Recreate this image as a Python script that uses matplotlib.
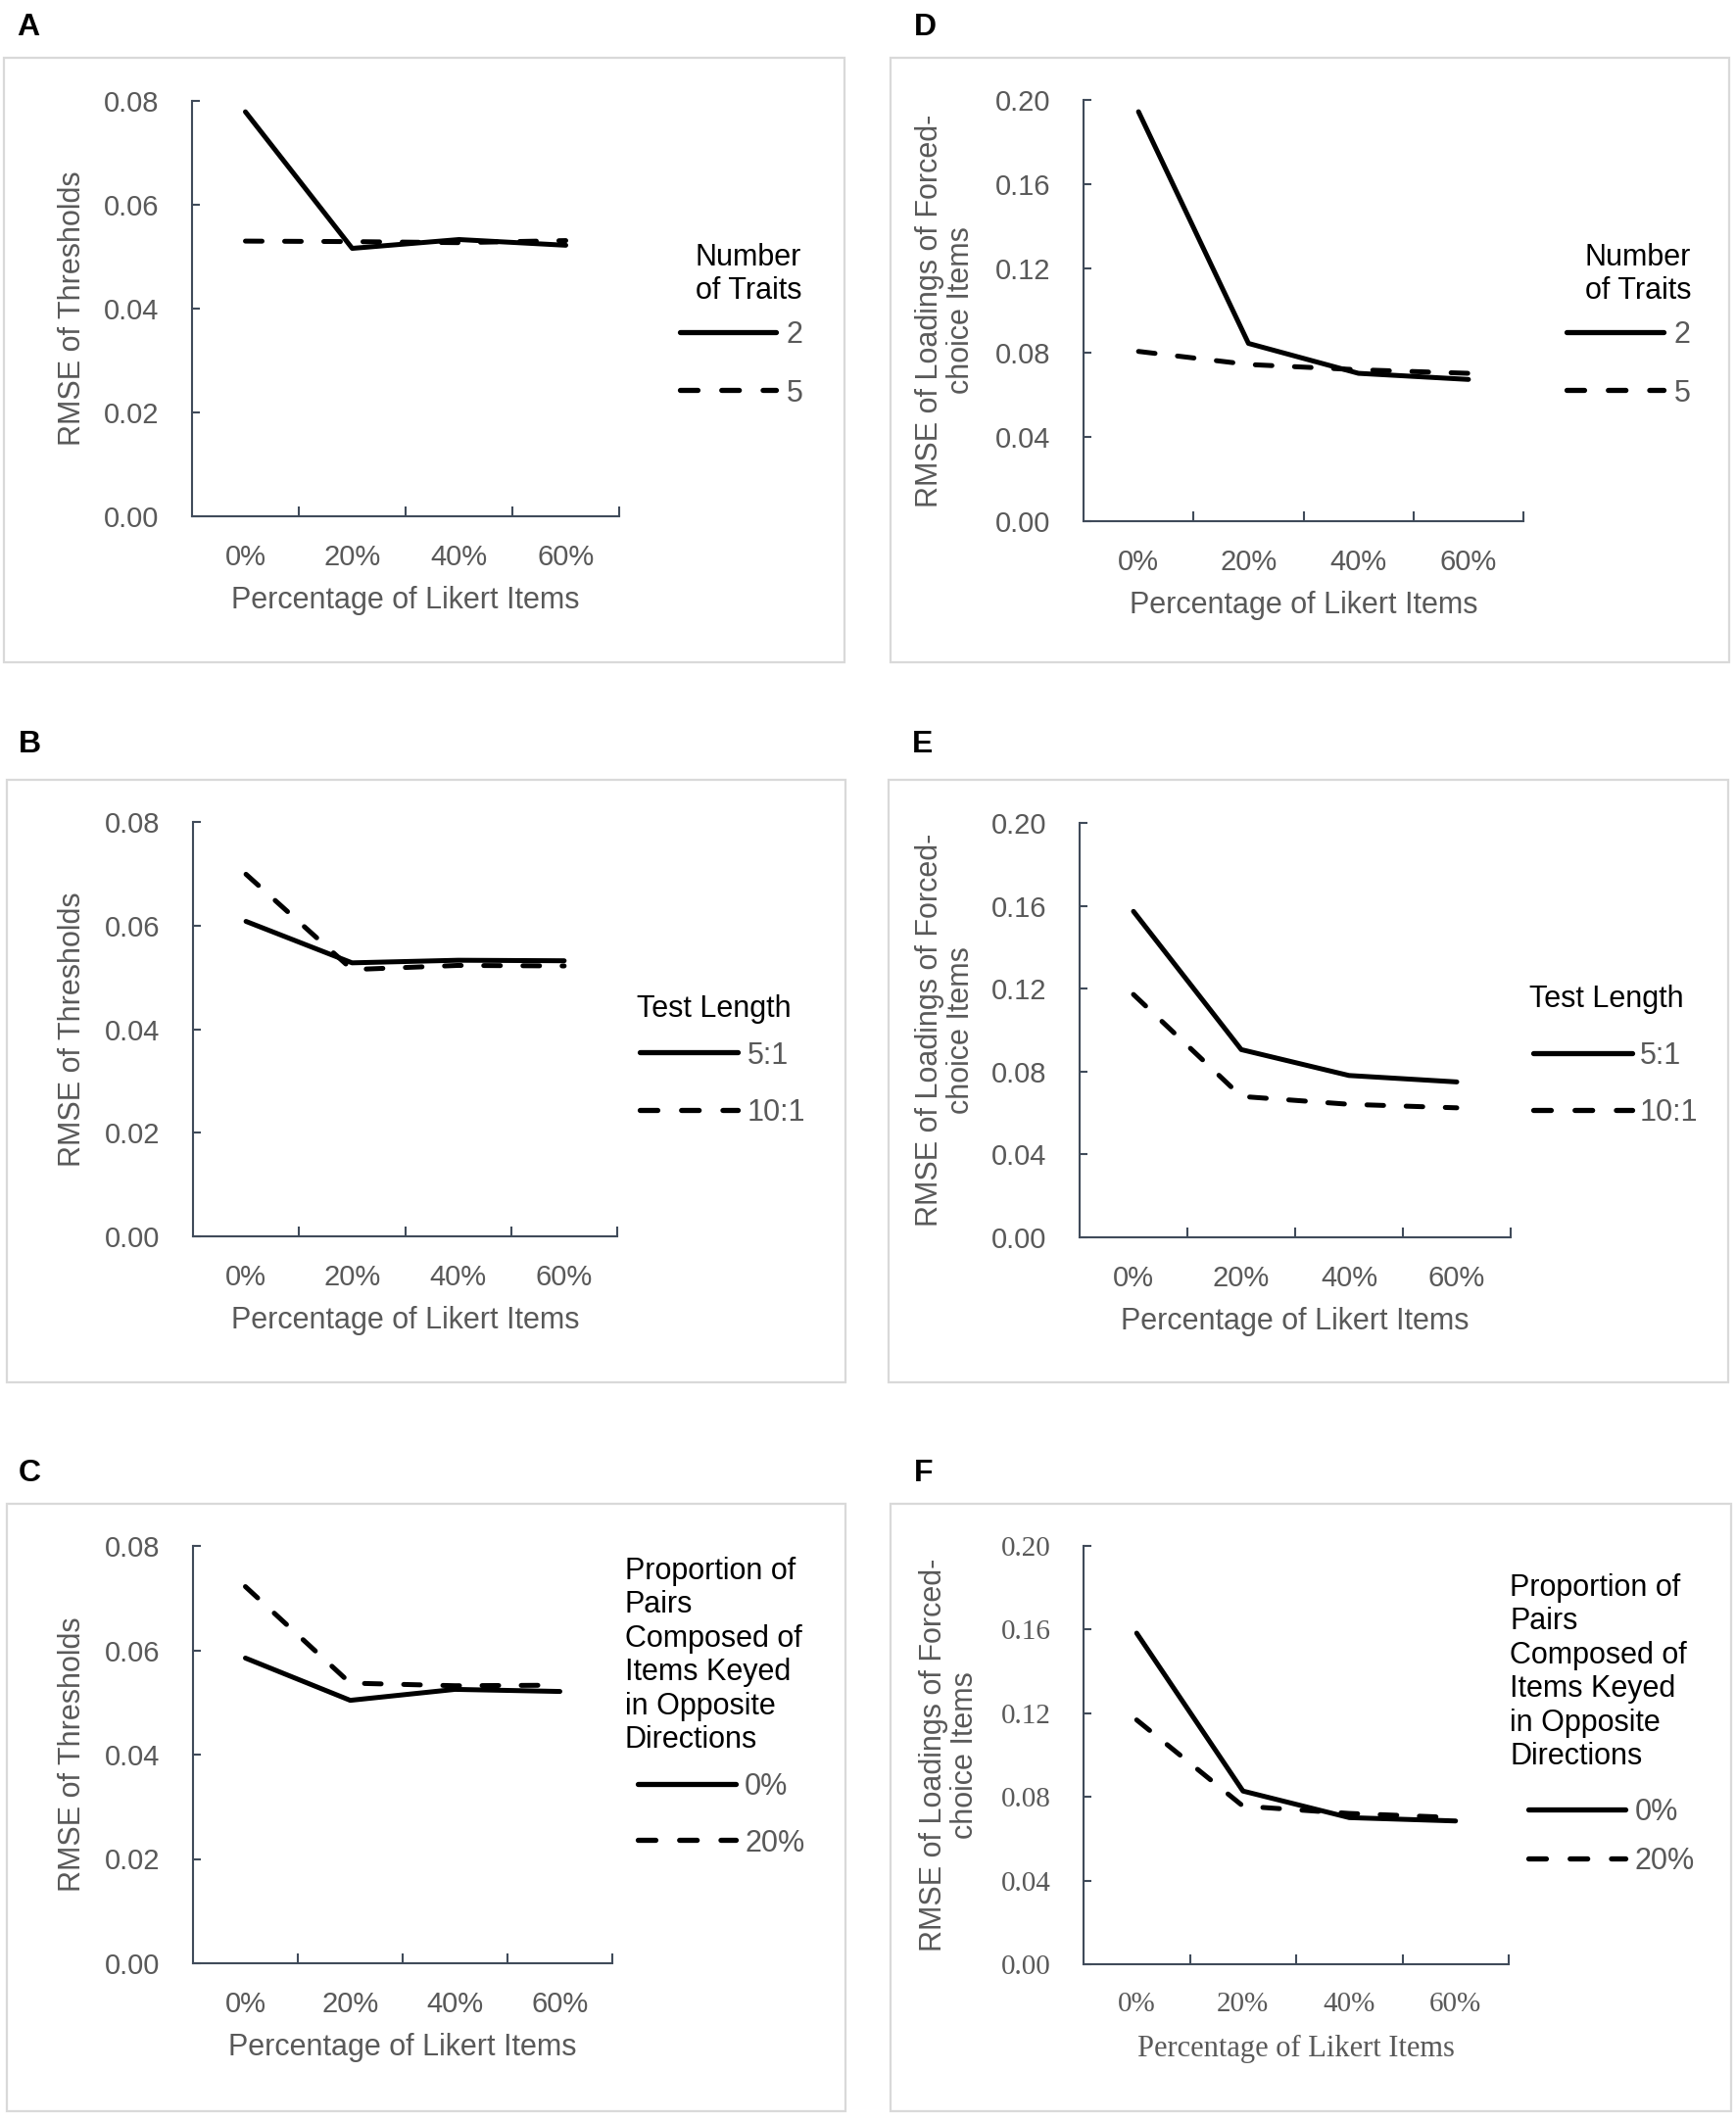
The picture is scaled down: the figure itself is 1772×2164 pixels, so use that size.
import matplotlib
matplotlib.use("Agg")
import matplotlib.pyplot as plt
from matplotlib.lines import Line2D
from matplotlib.patches import Rectangle

plt.rcParams['font.family'] = ['Liberation Sans', 'DejaVu Sans']

# ---------------- data ----------------
categories = ["0%", "20%", "40%", "60%"]
xlabel_text = "Percentage of Likert Items"

A_traits2 = [0.0779, 0.0516, 0.0533, 0.0522]
A_traits5 = [0.0530, 0.0529, 0.0527, 0.0531]
B_len51 = [0.0608, 0.0528, 0.0533, 0.0532]
B_len101 = [0.0699, 0.0515, 0.0523, 0.0522]
C_opp0 = [0.0585, 0.0504, 0.0525, 0.0521]
C_opp20 = [0.0722, 0.0537, 0.0532, 0.0533]
D_traits2 = [0.1944, 0.0844, 0.0702, 0.0673]
D_traits5 = [0.0806, 0.0744, 0.0719, 0.0702]
E_len51 = [0.1573, 0.0906, 0.0781, 0.0750]
E_len101 = [0.1172, 0.0680, 0.0642, 0.0625]
F_opp0 = [0.1583, 0.0828, 0.0701, 0.0685]
F_opp20 = [0.1168, 0.0756, 0.0721, 0.0701]

thr_ticks = [0.00, 0.02, 0.04, 0.06, 0.08]
load_ticks = [0.00, 0.04, 0.08, 0.12, 0.16, 0.20]

ylabel_thr = "RMSE of Thresholds"
ylabel_load = "RMSE of Loadings of Forced-\nchoice Items"

title_traits = "Number\nof Traits"
labels_traits = ["2", "5"]
title_len = "Test Length"
labels_len = ["5:1", "10:1"]
title_opp = "Proportion of\nPairs\nComposed of\nItems Keyed\nin Opposite\nDirections"
labels_opp = ["0%", "20%"]

# ---------------- layout ----------------
W, H = 1772, 2164
fig = plt.figure(figsize=(W / 100, H / 100), dpi=100)

def fx(x):
    return x / W

def fy(y):
    return 1 - y / H

AXIS_COL = '#404b5a'
TICK_COL = '#595959'
BOX_COL = '#d9d9d9'
LW = 3.6
DASH = (0, (3.4, 4.6))

panels = [
    dict(letter="A", box=(4, 59, 862, 676), ax=(196, 103, 632, 527), s1=A_traits2, s2=A_traits5,
         ticks=thr_ticks, ylabel=ylabel_thr, ylab_x=74,
         title=title_traits, labels=labels_traits, align='right', title_xy=(818, 280),
         leg_line=(694, 792), leg_y=(339, 398), leg_lab_x=803,
         serif=False, letter_pos=(17, 28)),
    dict(letter="B", box=(7, 796, 863, 1411), ax=(197, 839, 630, 1262), s1=B_len51, s2=B_len101,
         ticks=thr_ticks, ylabel=ylabel_thr, ylab_x=74,
         title=title_len, labels=labels_len, align='left', title_xy=(650, 1030),
         leg_line=(653, 753), leg_y=(1074, 1133), leg_lab_x=763,
         serif=False, letter_pos=(19, 760)),
    dict(letter="C", box=(7, 1535, 863, 2155), ax=(197, 1578, 625, 2004), s1=C_opp0, s2=C_opp20,
         ticks=thr_ticks, ylabel=ylabel_thr, ylab_x=74,
         title=title_opp, labels=labels_opp, align='left', title_xy=(638, 1690),
         leg_line=(651, 751), leg_y=(1821, 1878), leg_lab_x=760,
         serif=False, letter_pos=(19, 1504)),
    dict(letter="D", box=(909, 59, 1765, 676), ax=(1106, 102, 1555, 532), s1=D_traits2, s2=D_traits5,
         ticks=load_ticks, ylabel=ylabel_load, ylab_x=965,
         title=title_traits, labels=labels_traits, align='right', title_xy=(1726, 280),
         leg_line=(1599, 1698), leg_y=(339, 398), leg_lab_x=1709,
         serif=False, letter_pos=(933, 28)),
    dict(letter="E", box=(907, 796, 1764, 1411), ax=(1102, 840, 1542, 1263), s1=E_len51, s2=E_len101,
         ticks=load_ticks, ylabel=ylabel_load, ylab_x=965,
         title=title_len, labels=labels_len, align='left', title_xy=(1561, 1020),
         leg_line=(1565, 1666), leg_y=(1075, 1133), leg_lab_x=1674,
         serif=False, letter_pos=(931, 760)),
    dict(letter="F", box=(909, 1535, 1767, 2155), ax=(1106, 1578, 1540, 2005), s1=F_opp0, s2=F_opp20,
         ticks=load_ticks, ylabel=ylabel_load, ylab_x=969,
         title=title_opp, labels=labels_opp, align='left', title_xy=(1541, 1707),
         leg_line=(1560, 1659), leg_y=(1847, 1897), leg_lab_x=1669,
         serif=True, letter_pos=(933, 1504)),
]

for p in panels:
    x0, y0, x1, y1 = p['box']
    fig.patches.append(Rectangle((fx(x0), fy(y1)), fx(x1) - fx(x0), (y1 - y0) / H,
                                 transform=fig.transFigure, fill=False,
                                 edgecolor=BOX_COL, linewidth=1.6))
    fig.text(fx(p['letter_pos'][0]), fy(p['letter_pos'][1]), p['letter'],
             fontsize=23, fontweight='bold', ha='left', va='center', color='black')

    l, t, r, b = p['ax']
    ax = fig.add_axes([fx(l), fy(b), fx(r) - fx(l), (b - t) / H])
    xs = list(range(len(categories)))
    sty_solid = dict(color='black', lw=LW, solid_capstyle='round', solid_joinstyle='round')
    sty_dash = dict(color='black', lw=LW, linestyle=DASH, dash_capstyle='round',
                    dash_joinstyle='round')
    ax.plot(xs, p['s2'], **sty_dash, zorder=3)
    ax.plot(xs, p['s1'], **sty_solid, zorder=4)

    ax.set_xlim(-0.5, len(categories) - 0.5)
    ax.set_ylim(p['ticks'][0], p['ticks'][-1])
    for s in ['top', 'right']:
        ax.spines[s].set_visible(False)
    for s in ['left', 'bottom']:
        ax.spines[s].set_color(AXIS_COL)
        ax.spines[s].set_linewidth(1.5)
    ax.patch.set_alpha(0)

    tick_font = 'Liberation Serif' if p['serif'] else 'Liberation Sans'
    ax.set_yticks(p['ticks'])
    ax.set_yticklabels(["{:.2f}".format(v) for v in p['ticks']], fontsize=21,
                       color=TICK_COL, family=tick_font)
    ax.tick_params(axis='y', direction='in', length=6, width=1.5, color=AXIS_COL, pad=24)
    ax.set_xticks(xs)
    ax.set_xticklabels(categories, fontsize=21, color=TICK_COL, family=tick_font)
    ax.tick_params(axis='x', which='major', length=0, pad=20)
    ax.set_xticks([i + 0.5 for i in xs], minor=True)
    ax.tick_params(axis='x', which='minor', direction='in', length=7, width=1.5, color=AXIS_COL)

    cx = fx((l + r) / 2)
    fig.text(cx, fy(b + 86), xlabel_text, fontsize=22, color=TICK_COL,
             family=tick_font, ha='center', va='center')
    fig.text(fx(p['ylab_x']), fy((t + b) / 2), p['ylabel'], fontsize=22, color=TICK_COL,
             rotation=90, ha='center', va='center', multialignment='center', linespacing=1.12)

    # legend (title + sample lines + labels)
    tx, ty = p['title_xy']
    fig.text(fx(tx), fy(ty), p['title'], fontsize=22, color='black', ha=p['align'],
             va='center', multialignment=p['align'], linespacing=1.19)
    lx0, lx1 = p['leg_line']
    for ly, lab, sty in zip(p['leg_y'], p['labels'], [sty_solid, sty_dash]):
        st = dict(sty)
        st['lw'] = 3.8
        fig.add_artist(Line2D([fx(lx0), fx(lx1)], [fy(ly), fy(ly)],
                              transform=fig.transFigure, **st))
        fig.text(fx(p['leg_lab_x']), fy(ly), lab, fontsize=22, color=TICK_COL,
                 ha='left', va='center_baseline')

fig.savefig("out.png", dpi=100, facecolor='white')
